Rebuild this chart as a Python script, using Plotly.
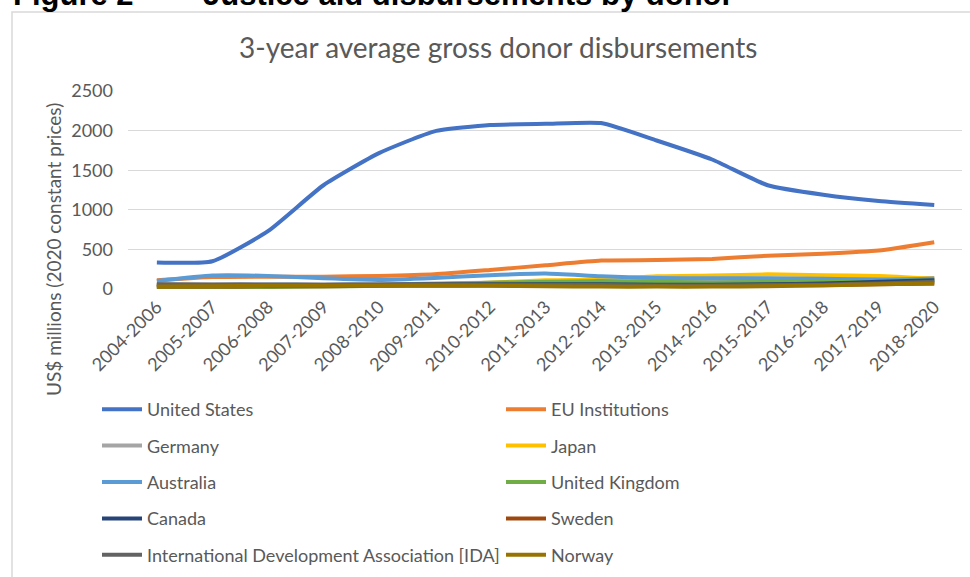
import plotly.graph_objects as go

periods = ["2004-2006", "2005-2007", "2006-2008", "2007-2009", "2008-2010",
           "2009-2011", "2010-2012", "2011-2013", "2012-2014", "2013-2015",
           "2014-2016", "2015-2017", "2016-2018", "2017-2019", "2018-2020"]

united_states = [335, 350, 730, 1310, 1715, 1990, 2070, 2085, 2095, 1875, 1635, 1310, 1190, 1110, 1060]
eu_institutions = [110, 150, 155, 155, 165, 185, 240, 300, 360, 365, 380, 420, 445, 485, 590]
germany = [60, 60, 60, 60, 60, 70, 80, 90, 100, 100, 100, 110, 120, 130, 140]
japan = [30, 30, 35, 40, 45, 60, 80, 110, 120, 160, 170, 185, 175, 165, 130]
australia = [100, 170, 165, 135, 115, 140, 175, 195, 160, 140, 135, 135, 130, 120, 130]
united_kingdom = [20, 20, 25, 30, 40, 60, 80, 90, 100, 90, 80, 90, 90, 100, 110]
canada = [50, 50, 55, 50, 55, 60, 60, 60, 60, 55, 55, 60, 70, 90, 110]
sweden = [30, 30, 35, 35, 40, 40, 45, 45, 45, 40, 40, 45, 50, 60, 70]
ida = [60, 55, 50, 50, 55, 60, 55, 50, 50, 45, 45, 50, 55, 70, 90]
norway = [30, 35, 40, 40, 40, 45, 40, 35, 30, 30, 30, 35, 45, 60, 70]

series = [
    ("United States", united_states, "#4472C4", "legend"),
    ("EU Institutions", eu_institutions, "#ED7D31", "legend2"),
    ("Germany", germany, "#A5A5A5", "legend"),
    ("Japan", japan, "#FFC000", "legend2"),
    ("Australia", australia, "#5B9BD5", "legend"),
    ("United Kingdom", united_kingdom, "#70AD47", "legend2"),
    ("Canada", canada, "#264478", "legend"),
    ("Sweden", sweden, "#9E480E", "legend2"),
    ("International Development Association [IDA]", ida, "#636363", "legend"),
    ("Norway", norway, "#997300", "legend2"),
]

W, H = 970, 577
L, R, T, B = 128, 8, 91, 288
pw, ph = W - L - R, H - T - B


def px(x):
    return (x - L) / pw


def py(y):
    return (H - B - y) / ph


TXT = "#595959"
FONT = "Lato"

fig = go.Figure()
for name, vals, color, lg in series:
    fig.add_trace(go.Scatter(
        x=periods, y=vals, name=name, mode="lines",
        line=dict(color=color, width=4, shape="spline", smoothing=0.5),
        legend=lg, legendgroup=name,
    ))

legend_common = dict(
    orientation="v", xanchor="left", yanchor="top",
    font=dict(family=FONT, size=18, color=TXT),
    bgcolor="rgba(0,0,0,0)", tracegroupgap=10, itemwidth=40,
    itemclick=False, itemdoubleclick=False,
)

fig.update_layout(
    width=W, height=H,
    margin=dict(l=L, r=R, t=T, b=B, autoexpand=False),
    paper_bgcolor="white", plot_bgcolor="white",
    font=dict(family=FONT, color=TXT),
    xaxis=dict(type="category", range=[-0.52, 14.5], showgrid=False,
               showline=False, zeroline=False, tickangle=-45,
               tickfont=dict(family=FONT, size=18, color=TXT),
               ticklabelstandoff=3),
    yaxis=dict(range=[0, 2500], dtick=500, showgrid=True, gridcolor="#D9D9D9",
               gridwidth=1, zeroline=False, showline=False,
               tickfont=dict(family=FONT, size=18, color=TXT),
               ticklabelstandoff=14),
    legend=dict(x=px(97), y=py(391), **legend_common),
    legend2=dict(x=px(501), y=py(391), **legend_common),
    shapes=[dict(type="rect", xref="paper", yref="paper",
                 x0=px(12), x1=px(1010), y0=py(640), y1=py(12),
                 line=dict(color="#D9D9D9", width=1.5), fillcolor="rgba(0,0,0,0)",
                 layer="below")],
    annotations=[
        dict(text="3-year average gross donor disbursements", xref="paper", yref="paper",
             x=px(498), y=py(47), xanchor="center", yanchor="middle", showarrow=False,
             font=dict(family=FONT, size=28, color=TXT)),
        dict(text="US$ millions (2020 constant prices)", xref="paper", yref="paper",
             x=px(53), y=py(250), xanchor="center", yanchor="middle", showarrow=False,
             textangle=-90, font=dict(family=FONT, size=19, color=TXT)),
        dict(text="<b>Figure 2</b>", xref="paper", yref="paper",
             x=px(11), y=py(-6), xanchor="left", yanchor="middle", showarrow=False,
             font=dict(family="Liberation Sans", size=31, color="black")),
        dict(text="<b>Justice aid disbursements by donor</b>", xref="paper", yref="paper",
             x=px(201), y=py(-6), xanchor="left", yanchor="middle", showarrow=False,
             font=dict(family="Liberation Sans", size=31, color="black")),
    ],
)

fig.write_html("out.html", config={"displayModeBar": False},
               post_script="document.body.style.margin='0';")
